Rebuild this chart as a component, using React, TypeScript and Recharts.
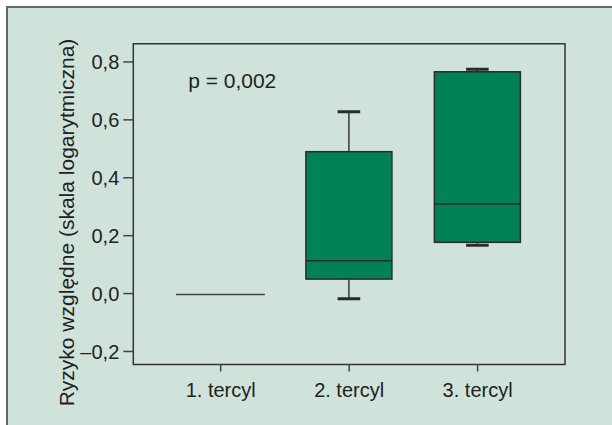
import React from 'react';
import {
  ComposedChart,
  Bar,
  XAxis,
  YAxis,
  ReferenceArea,
  ReferenceDot,
} from 'recharts';

const categories = ['1. tercyl', '2. tercyl', '3. tercyl'];
const categoryPositions = [1, 2, 3];
const whiskerLow = [-0.003, -0.018, 0.167];
const quartile1 = [-0.003, 0.05, 0.177];
const medians = [-0.003, 0.113, 0.309];
const quartile3 = [-0.003, 0.49, 0.766];
const whiskerHigh = [-0.003, 0.628, 0.775];
const yTicks = [-0.2, 0, 0.2, 0.4, 0.6, 0.8];
const yDomain = [-0.245, 0.863];
const xDomain = [0.32, 3.68];
const pValueText = 'p = 0,002';
const pValueAnchor = { pos: 1.09, value: 0.71 };
const yAxisTitle = 'Ryzyko względne (skala logarytmiczna)';

const data = categories.map((name, i) => ({
  name,
  pos: categoryPositions[i],
  min: whiskerLow[i],
  q1: quartile1[i],
  median: medians[i],
  q3: quartile3[i],
  max: whiskerHigh[i],
  range: [whiskerLow[i], whiskerHigh[i]],
}));

const FONT = '"Liberation Sans", Arial, Helvetica, sans-serif';
const BOX_FILL = '#008157';
const DARK = '#2a2a2a';

const BoxShape = (props: any) => {
  const { x, y, width, height, payload } = props;
  const top = Math.min(y, y + height);
  const bot = Math.max(y, y + height);
  const cx = x + width / 2;
  if (payload.max === payload.min) {
    return (
      <line x1={x - 1.5} x2={x + width + 1.5} y1={top} y2={top} stroke="#444" strokeWidth={1.6} />
    );
  }
  const toPx = (v: number) => top + ((payload.max - v) / (payload.max - payload.min)) * (bot - top);
  const capHalf = 11.3;
  const yQ1 = toPx(payload.q1);
  const yQ3 = toPx(payload.q3);
  const yMed = toPx(payload.median);
  const yMin = toPx(payload.min);
  const yMax = toPx(payload.max);
  return (
    <g>
      <line x1={cx} x2={cx} y1={yMax} y2={yQ3} stroke="#444" strokeWidth={1.6} />
      <line x1={cx} x2={cx} y1={yQ1} y2={yMin} stroke="#444" strokeWidth={1.6} />
      <line x1={cx - capHalf} x2={cx + capHalf} y1={yMax} y2={yMax} stroke={DARK} strokeWidth={3} />
      <line x1={cx - capHalf} x2={cx + capHalf} y1={yMin} y2={yMin} stroke={DARK} strokeWidth={3} />
      <rect x={x} y={yQ3} width={width} height={yQ1 - yQ3} fill={BOX_FILL} stroke={DARK} strokeWidth={1.5} />
      <line x1={x} x2={x + width} y1={yMed} y2={yMed} stroke={DARK} strokeWidth={1.5} />
    </g>
  );
};

const fmtY = (v: number) => {
  const s = Math.abs(v).toFixed(1).replace('.', ',');
  return v < 0 ? '\u2013' + s : s;
};

const fmtX = (v: number) => categories[categoryPositions.indexOf(v)] ?? '';

const renderYTitle = (props: any) => {
  const vb = props.viewBox || {};
  const cx = vb.x + vb.width / 2;
  const cy = vb.y + vb.height / 2 + 18.4;
  return (
    <text
      x={cx}
      y={cy}
      transform={`rotate(-90, ${cx}, ${cy})`}
      textAnchor="middle"
      dominantBaseline="central"
      fontFamily={FONT}
      fontSize={21}
      fill="#222"
    >
      {yAxisTitle}
    </text>
  );
};

const renderPValue = (props: any) => {
  const vb = props.viewBox || {};
  return (
    <text x={vb.x} y={vb.y} textAnchor="middle" fontFamily={FONT} fontSize={21} fill="#222">
      {pValueText}
    </text>
  );
};

export default function App() {
  return (
    <div style={{ position: 'absolute', left: 0, top: 0, width: 612, height: 425, background: '#ffffff', overflow: 'hidden' }}>
      <div
        style={{
          position: 'absolute',
          left: 6,
          top: 6,
          width: 620,
          height: 430,
          background: '#cfe3da',
          borderLeft: '2px solid #666',
          borderTop: '2px solid #666',
        }}
      />
      <div style={{ position: 'absolute', left: 0, top: 0 }}>
        <ComposedChart
          width={612}
          height={425}
          data={data}
          margin={{ top: 43.7, right: 47, bottom: 30.5, left: 0 }}
        >
          <XAxis
            dataKey="pos"
            type="number"
            domain={xDomain}
            ticks={categoryPositions}
            allowDataOverflow
            tickFormatter={fmtX}
            axisLine={false}
            tickLine={{ stroke: '#444', strokeWidth: 1.5 }}
            tickSize={7}
            tickMargin={11}
            height={30}
            tick={{ fill: '#222', fontSize: 20, fontFamily: FONT }}
            interval={0}
          />
          <YAxis
            type="number"
            domain={yDomain}
            ticks={yTicks}
            allowDataOverflow
            width={133.3}
            axisLine={false}
            tickLine={{ stroke: '#444', strokeWidth: 1.5 }}
            tickSize={10}
            tickMargin={4}
            tickFormatter={fmtY}
            tick={{ fill: '#222', fontSize: 20, fontFamily: FONT }}
            label={{ content: renderYTitle }}
          />
          <ReferenceArea
            x1={xDomain[0]}
            x2={xDomain[1]}
            y1={yDomain[0]}
            y2={yDomain[1]}
            fill="none"
            fillOpacity={0}
            stroke="#333"
            strokeWidth={1.5}
            ifOverflow="visible"
          />
          <Bar dataKey="range" barSize={86} shape={BoxShape} isAnimationActive={false} />
          <ReferenceDot
            x={pValueAnchor.pos}
            y={pValueAnchor.value}
            r={0}
            fill="none"
            stroke="none"
            label={{ content: renderPValue }}
          />
        </ComposedChart>
      </div>
    </div>
  );
}
